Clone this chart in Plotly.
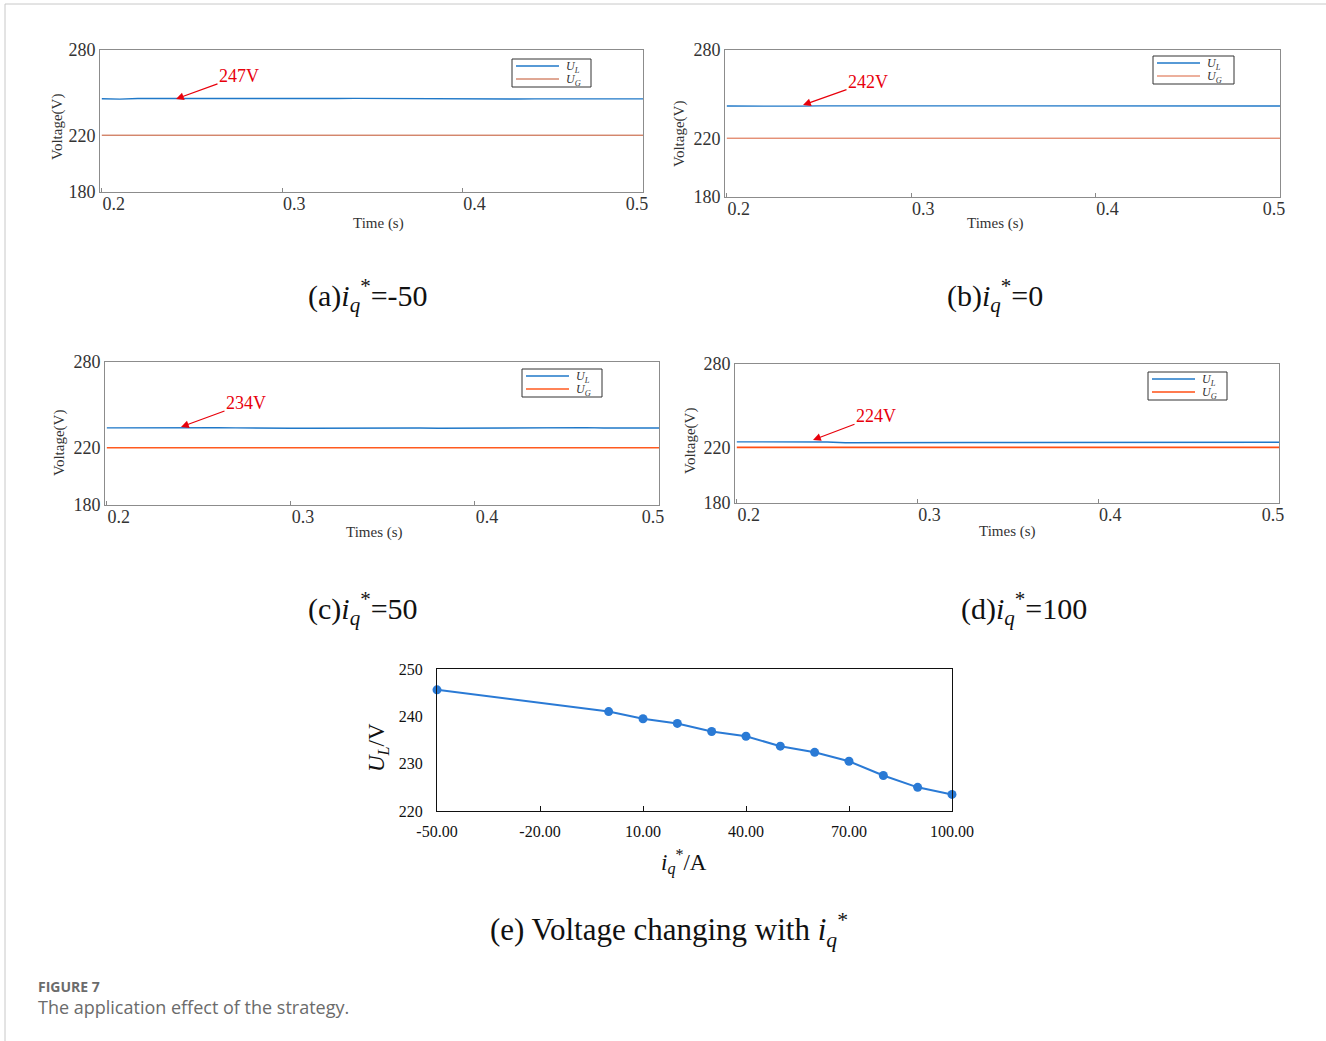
import plotly.graph_objects as go

W, H = 1326, 1041

# ---------------- data ----------------
time_s = [0.20, 0.21, 0.22, 0.23, 0.24, 0.25, 0.26, 0.27, 0.28, 0.29, 0.30,
          0.31, 0.32, 0.33, 0.34, 0.35, 0.36, 0.37, 0.38, 0.39, 0.40,
          0.41, 0.42, 0.43, 0.44, 0.45, 0.46, 0.47, 0.48, 0.49, 0.50]
ul_a = [245.7, 245.4, 245.8, 245.9, 245.7, 245.6, 245.8, 245.8, 245.8, 245.7, 245.6,
        245.5, 245.6, 245.8, 245.9, 245.8, 245.7, 245.7, 245.6, 245.6, 245.5,
        245.4, 245.5, 245.5, 245.6, 245.5, 245.5, 245.7, 245.6, 245.6, 245.6]
ul_b = [241.9, 241.8, 241.8, 241.9, 241.8, 242.0, 242.0, 241.9, 241.9, 241.8, 241.8,
        241.8, 242.1, 242.0, 241.7, 241.7, 241.9, 242.0, 241.9, 241.8, 241.9,
        242.0, 241.8, 241.9, 242.0, 241.9, 241.9, 241.8, 241.9, 241.8, 241.9]
ul_c = [233.9, 234.0, 233.9, 233.9, 234.0, 233.9, 234.0, 233.9, 234.0, 233.7, 233.7,
        233.7, 233.8, 233.8, 233.7, 233.8, 233.8, 233.8, 233.7, 233.8, 233.7,
        233.7, 233.8, 233.8, 233.9, 234.1, 234.1, 233.8, 233.8, 233.9, 233.8]
ul_d = [224.0, 224.0, 223.9, 224.0, 224.0, 223.9, 223.3, 223.4, 223.5, 223.5, 223.4,
        223.5, 223.4, 223.5, 223.5, 223.5, 223.5, 223.5, 223.5, 223.5, 223.6,
        223.5, 223.5, 223.5, 223.5, 223.5, 223.5, 223.4, 223.5, 223.9, 223.7]
ug_time = [0.20, 0.50]
ug_val = [220, 220]

panel_labels = ["247V", "242V", "234V", "224V"]
panel_xtitles = ["Time (s)", "Times (s)", "Times (s)", "Times (s)"]
panel_captions = ["(a)<i>i<sub>q</sub></i><sup>*</sup>=-50", "(b)<i>i<sub>q</sub></i><sup>*</sup>=0",
                  "(c)<i>i<sub>q</sub></i><sup>*</sup>=50", "(d)<i>i<sub>q</sub></i><sup>*</sup>=100"]
time_ticks = [0.2, 0.3, 0.4, 0.5]
time_ticklabels = ["0.2", "0.3", "0.4", "0.5"]
volt_ticks = [180, 220, 280]

iq_ref = [-50, 0, 10, 20, 30, 40, 50, 60, 70, 80, 90, 100]
ul_vs_iq = [245.6, 241.0, 239.5, 238.5, 236.8, 235.8, 233.7, 232.4, 230.5, 227.5, 225.0, 223.5]
iq_ticks = [-50, -20, 10, 40, 70, 100]
iq_ticklabels = ["-50.00", "-20.00", "10.00", "40.00", "70.00", "100.00"]
ul_ticks = [220, 230, 240, 250]

# ---------------- layout helpers ----------------
def px(x):
    return x / W

def py(y):
    return 1 - y / H

SERIF = "Liberation Serif"
SANS = "Open Sans"
BLUE = "#1f78c8"
RED = "#e8000b"

# panel boxes in page pixels: left, right, top, bottom
boxes = [(100, 643, 50, 192), (725, 1280, 50, 197), (105, 659, 362, 505), (735, 1279, 364, 503)]
ug_colors = ["#c0502a", "#d9603a", "#ff5a1f", "#ff4f14"]
ug_widths = [1.0, 1.0, 1.6, 1.6]
legend_boxes = [(512, 591, 59, 87), (1153, 1234, 56, 84), (522, 602, 369, 397), (1148, 1227, 372, 400)]
arrows = [((176, 99), (239, 76)), ((803, 105), (868, 82)), ((181, 427), (246, 403)), ((813, 440), (876, 416))]
ytitle_pos = [(58, 127), (679, 134), (59, 443), (690, 441)]
xtitle_pos = [(378, 223), (995, 223), (374, 532), (1007, 531)]
caption_pos = [(368, 296), (995, 296), (363, 608), (1024, 608)]

ul_series = [ul_a, ul_b, ul_c, ul_d]
# last time label pulled inside the frame, as in the original scope screenshots
time_ticktext = time_ticklabels[:-1] + [time_ticklabels[-1] + "\u00a0" * 8]

fig = go.Figure()
annotations = []
shapes = []


def text_at(x, y, text, size, color="#111", family=SERIF, angle=0, xanchor="center"):
    annotations.append(dict(xref="paper", yref="paper", x=px(x), y=py(y), xanchor=xanchor,
                            yanchor="middle", textangle=angle, showarrow=False, text=text,
                            font=dict(family=family, size=size, color=color)))


for i in range(4):
    n = "" if i == 0 else str(i + 1)
    l, r, t, b = boxes[i]
    fig.add_trace(go.Scatter(x=time_s, y=ul_series[i], mode="lines",
                             line=dict(color=BLUE, width=1.4), xaxis="x" + n, yaxis="y" + n,
                             showlegend=False))
    fig.add_trace(go.Scatter(x=ug_time, y=ug_val, mode="lines",
                             line=dict(color=ug_colors[i], width=ug_widths[i]), xaxis="x" + n, yaxis="y" + n,
                             showlegend=False))
    fig.layout["xaxis" + n] = dict(domain=[px(l), px(r)], anchor="y" + n, range=[0.199, 0.5],
                                   tickvals=time_ticks, ticktext=time_ticktext,
                                   ticks="inside", ticklen=4, tickcolor="#888",
                                   showline=True, linecolor="#8c8c8c", linewidth=1, mirror=True,
                                   showgrid=False, zeroline=False, ticklabelshift=12,
                                   ticklabelstandoff=-5, automargin=False,
                                   tickfont=dict(family=SERIF, size=18, color="#333"))
    fig.layout["yaxis" + n] = dict(domain=[py(b), py(t)], anchor="x" + n, range=[180, 280],
                                   tickvals=volt_ticks, ticks="", ticklabelstandoff=0,
                                   showline=True, linecolor="#8c8c8c", linewidth=1, mirror=True,
                                   showgrid=False, zeroline=False, automargin=False,
                                   tickfont=dict(family=SERIF, size=18, color="#333"))
    # legend (box, samples, labels)
    lx0, lx1, ly0, ly1 = legend_boxes[i]
    shapes.append(dict(type="rect", xref="paper", yref="paper", x0=px(lx0), x1=px(lx1),
                       y0=py(ly1), y1=py(ly0), line=dict(color="#333", width=1), fillcolor="white"))
    for k, (name, col, w) in enumerate([("<i>U<sub>L</sub></i>", BLUE, 1.3),
                                         ("<i>U<sub>G</sub></i>", ug_colors[i], ug_widths[i])]):
        yy = ly0 + 7 + 13 * k
        shapes.append(dict(type="line", xref="paper", yref="paper", x0=px(lx0 + 4), x1=px(lx0 + 47),
                           y0=py(yy), y1=py(yy), line=dict(color=col, width=w)))
        text_at(lx0 + 52, yy + 1, name, 12, color="#333", xanchor="left")
    # red value arrow
    (hx, hy), (tx, ty) = arrows[i]
    annotations.append(dict(xref="paper", yref="paper", x=px(hx), y=py(hy), ax=tx - hx, ay=ty - hy,
                            text=panel_labels[i], showarrow=True, arrowhead=2, arrowsize=1.3,
                            arrowwidth=1.2, arrowcolor=RED,
                            font=dict(family=SERIF, size=18, color=RED)))
    # axis titles and caption
    yx, yy = ytitle_pos[i]
    text_at(yx, yy, "Voltage(V)", 15, color="#333", angle=-90)
    xx, xy = xtitle_pos[i]
    text_at(xx, xy, panel_xtitles[i], 15, color="#333")
    cx, cy = caption_pos[i]
    text_at(cx, cy, panel_captions[i], 30, color="#111")

# ---------------- panel (e) ----------------
fig.add_trace(go.Scatter(x=iq_ref, y=ul_vs_iq, mode="lines+markers",
                         line=dict(color="#2a7ad5", width=2),
                         marker=dict(color="#2a7ad5", size=9),
                         xaxis="x5", yaxis="y5", showlegend=False, cliponaxis=False))
fig.layout["xaxis5"] = dict(domain=[px(437), px(952)], anchor="y5", range=[-50, 100],
                            tickvals=iq_ticks, ticktext=iq_ticklabels, ticks="inside", ticklen=5,
                            tickcolor="#111", showline=True, linecolor="#111", linewidth=1.2, mirror=True,
                            showgrid=False, zeroline=False, ticklabelstandoff=6, automargin=False,
                            tickfont=dict(family=SERIF, size=16, color="#111"))
fig.layout["yaxis5"] = dict(domain=[py(811), py(669)], anchor="x5", range=[220, 250],
                            tickvals=ul_ticks, ticks="", ticklabelstandoff=10,
                            showline=True, linecolor="#111", linewidth=1.2, mirror=True,
                            showgrid=False, zeroline=False, automargin=False,
                            tickfont=dict(family=SERIF, size=16, color="#111"))
text_at(378, 748, "<i>U<sub>L</sub></i>/V", 23, angle=-90)
text_at(684, 862, "<i>i<sub>q</sub></i><sup>*</sup>/A", 23)
text_at(669, 930, "(e) Voltage changing with <i>i<sub>q</sub></i><sup>*</sup>", 31)

# ---------------- footer / frame ----------------
text_at(36, 986, "<b>FIGURE 7</b>", 14, color="#6b6b6b", family=SANS, xanchor="left")
text_at(36, 1007, "The application effect of the strategy.", 18, color="#6b6b6b", family=SANS, xanchor="left")
shapes.append(dict(type="line", xref="paper", yref="paper", x0=px(5), x1=1, y0=py(4), y1=py(4),
                   line=dict(color="#c8c8c8", width=1)))
shapes.append(dict(type="line", xref="paper", yref="paper", x0=px(5), x1=px(5), y0=0, y1=py(4),
                   line=dict(color="#c8c8c8", width=1)))

fig.update_layout(width=W, height=H, margin=dict(l=0, r=0, t=0, b=0, autoexpand=False),
                  paper_bgcolor="white", plot_bgcolor="white",
                  annotations=annotations, shapes=shapes, showlegend=False)

fig.write_html("out.html", config={"displayModeBar": False},
               post_script="document.body.style.margin='0';document.body.style.overflow='hidden';")
